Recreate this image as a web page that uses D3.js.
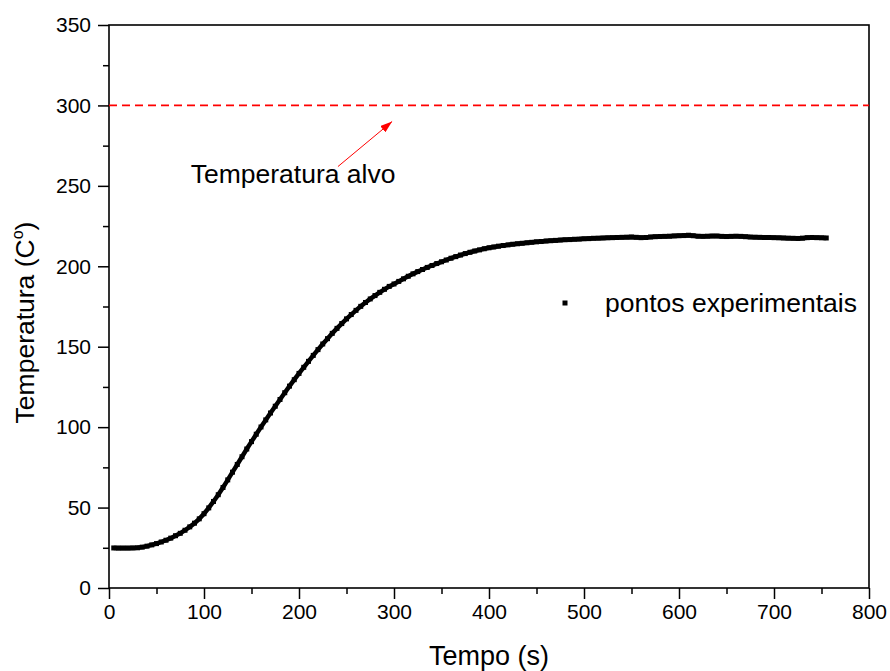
<!DOCTYPE html>
<html>
<head>
<meta charset="utf-8">
<script src="https://cdn.jsdelivr.net/npm/d3@7"></script>
<style>
  body { margin: 0; background: #fff; }
  svg { display: block; font-family: "Liberation Sans", Arial, sans-serif; }
</style>
</head>
<body>
<div id="plot"></div>
<script>
// measured points (time in s, temperature in C)
var tempo = [5, 10, 15, 20, 25, 30, 35, 40, 45, 50, 55, 60, 65, 70, 75, 80, 85, 90, 95, 100,
  105, 110, 115, 120, 125, 130, 135, 140, 145, 150, 155, 160, 165, 170, 175, 180, 185, 190, 195, 200,
  205, 210, 215, 220, 225, 230, 235, 240, 245, 250, 255, 260, 265, 270, 275, 280, 285, 290, 295, 300,
  305, 310, 315, 320, 325, 330, 335, 340, 345, 350, 355, 360, 365, 370, 375, 380, 385, 390, 395, 400,
  405, 410, 415, 420, 425, 430, 435, 440, 445, 450, 455, 460, 465, 470, 475, 480, 485, 490, 495, 500,
  505, 510, 515, 520, 525, 530, 535, 540, 545, 550, 555, 560, 565, 570, 575, 580, 585, 590, 595, 600,
  605, 610, 615, 620, 625, 630, 635, 640, 645, 650, 655, 660, 665, 670, 675, 680, 685, 690, 695, 700,
  705, 710, 715, 720, 725, 730, 735, 740, 745, 750, 755];
var temperatura = [24.9, 24.8, 24.8, 24.8, 24.9, 25.0, 25.4, 26.0, 26.8, 27.6, 28.6, 29.7, 31.0, 32.5, 34.0, 35.9, 38.0, 40.3, 43.0, 46.2,
  49.8, 53.8, 58.0, 62.5, 67.2, 72.0, 76.8, 81.6, 86.4, 91.0, 95.6, 100.1, 104.5, 108.8, 113.0, 117.2, 121.4, 125.5, 129.5, 133.4,
  137.2, 140.9, 144.6, 148.2, 151.7, 155.0, 158.3, 161.4, 164.4, 167.3, 170.0, 172.6, 175.1, 177.5, 179.7, 181.8, 183.8, 185.7, 187.5, 189.0,
  190.6, 192.2, 193.8, 195.3, 196.7, 198.0, 199.3, 200.5, 201.7, 202.8, 203.9, 205.0, 206.0, 207.0, 207.9, 208.7, 209.5, 210.2, 210.9, 211.5,
  212.0, 212.5, 212.9, 213.3, 213.7, 214.0, 214.3, 214.6, 214.9, 215.2, 215.4, 215.7, 215.9, 216.1, 216.3, 216.5, 216.6, 216.8, 216.9, 217.1,
  217.2, 217.4, 217.5, 217.6, 217.7, 217.8, 217.9, 218.0, 218.1, 218.2, 218.0, 217.8, 217.9, 218.2, 218.4, 218.5, 218.6, 218.7, 218.9, 219.0,
  219.1, 219.3, 219.0, 218.7, 218.6, 218.7, 218.8, 218.8, 218.6, 218.5, 218.6, 218.7, 218.6, 218.4, 218.2, 218.1, 218.0, 217.9, 217.9, 217.8,
  217.7, 217.6, 217.5, 217.4, 217.3, 217.5, 217.8, 217.9, 217.8, 217.7, 217.6];

var xTicks = [0, 100, 200, 300, 400, 500, 600, 700, 800],
    xMinor = [50, 150, 250, 350, 450, 550, 650, 750],
    yTicks = [0, 50, 100, 150, 200, 250, 300, 350],
    yMinor = [25, 75, 125, 175, 225, 275, 325];

var alvo = 300;
// annotation: text anchor and arrow (data units)
var alvoLabel = {t: 86, v: 252, text: "Temperatura alvo"},
    alvoArrow = {t0: 241, v0: 262, t1: 298, v1: 290};

/*------------------------------------------*/
/*            Chart                         */
/*------------------------------------------*/

var W = 890, H = 671;
var margin = {top: 25, right: 21, bottom: 83, left: 109};
var width = W - margin.left - margin.right,
    height = H - margin.top - margin.bottom;

var svg = d3.select("#plot").append("svg")
    .attr("width", W).attr("height", H);

svg.append("defs").append("marker")
    .attr("id", "arrowhead")
    .attr("viewBox", "0 0 12 8")
    .attr("refX", 12).attr("refY", 4)
    .attr("markerWidth", 12).attr("markerHeight", 8)
    .attr("markerUnits", "userSpaceOnUse")
    .attr("orient", "auto")
  .append("path")
    .attr("d", "M0,0 L12,4 L0,8 Z")
    .style("fill", "#ff0000");

var chart = svg.append("g")
    .attr("transform", "translate(" + margin.left + "," + margin.top + ")");

var x = d3.scaleLinear().domain([0, 800]).range([0, width]),
    y = d3.scaleLinear().domain([0, 350]).range([height, 0]);

// axes
chart.append("g").attr("transform", "translate(0," + height + ")")
    .call(d3.axisBottom(x).tickValues(xTicks).tickSize(11).tickPadding(5).tickFormat(d3.format("d")));
chart.append("g").attr("transform", "translate(0," + height + ")")
    .call(d3.axisBottom(x).tickValues(xMinor).tickSize(6).tickFormat(""));
chart.append("g")
    .call(d3.axisLeft(y).tickValues(yTicks).tickSize(11).tickPadding(7).tickFormat(d3.format("d")));
chart.append("g")
    .call(d3.axisLeft(y).tickValues(yMinor).tickSize(6).tickFormat(""));

chart.selectAll(".domain").remove();
chart.selectAll(".tick line").style("stroke", "#000").style("stroke-width", 1.5);
chart.selectAll(".tick text")
    .style("font-family", "Liberation Sans, Arial, sans-serif")
    .style("font-size", "21px")
    .style("fill", "#000");

// frame
chart.append("rect")
    .attr("x", 0).attr("y", 0)
    .attr("width", width).attr("height", height)
    .style("fill", "none")
    .style("stroke", "#000")
    .style("stroke-width", 1.6);

// target line
chart.append("line")
    .attr("x1", x(0)).attr("x2", x(800))
    .attr("y1", y(alvo)).attr("y2", y(alvo))
    .style("stroke", "#ff0000")
    .style("stroke-width", 1.8)
    .style("stroke-dasharray", "8,5");

chart.append("line")
    .attr("x1", x(alvoArrow.t0)).attr("y1", y(alvoArrow.v0))
    .attr("x2", x(alvoArrow.t1)).attr("y2", y(alvoArrow.v1))
    .style("stroke", "#ff0000")
    .style("stroke-width", 1)
    .attr("marker-end", "url(#arrowhead)");

chart.append("text")
    .attr("x", x(alvoLabel.t)).attr("y", y(alvoLabel.v))
    .style("font-size", "26.5px")
    .text(alvoLabel.text);

// experimental points
var data = tempo.map(function(t, i) { return {t: t, v: temperatura[i]}; });

chart.append("path")
    .datum(data)
    .attr("d", d3.line().x(function(d) { return x(d.t); }).y(function(d) { return y(d.v); }))
    .style("fill", "none")
    .style("stroke", "#000")
    .style("stroke-width", 4.5);

chart.selectAll(".point")
    .data(data)
    .enter().append("rect")
    .attr("class", "point")
    .attr("x", function(d) { return x(d.t) - 2.5; })
    .attr("y", function(d) { return y(d.v) - 2.5; })
    .attr("width", 5).attr("height", 5)
    .style("fill", "#000");

// legend
var legend = svg.append("g").attr("transform", "translate(565,303)");
legend.append("rect")
    .attr("x", -2.5).attr("y", -2.5).attr("width", 5).attr("height", 5)
    .style("fill", "#000");
legend.append("text")
    .attr("x", 40).attr("y", 9)
    .style("font-size", "26.5px")
    .text("pontos experimentais");

// axis titles
svg.append("text")
    .attr("x", margin.left + width / 2).attr("y", 665)
    .attr("text-anchor", "middle")
    .style("font-size", "27px")
    .text("Tempo (s)");

var yTitle = svg.append("text")
    .attr("transform", "translate(34," + (margin.top + height / 2 + 16) + ") rotate(-90)")
    .attr("text-anchor", "middle")
    .style("font-size", "26.5px");
yTitle.append("tspan").text("Temperatura (C");
yTitle.append("tspan").attr("dy", -11).style("font-size", "16px").text("o");
yTitle.append("tspan").attr("dy", 11).text(")");
</script>
</body>
</html>
